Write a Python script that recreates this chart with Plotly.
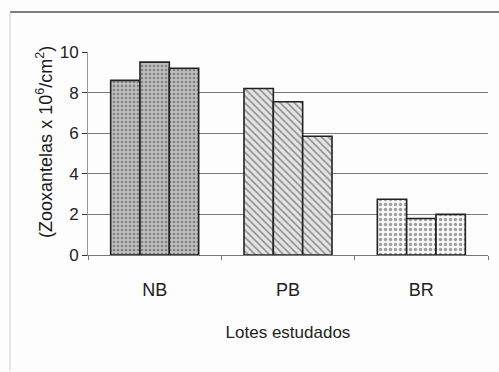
import plotly.graph_objects as go

categories = ["NB", "PB", "BR"]
amostra1 = [8.6, 8.2, 2.75]
amostra2 = [9.5, 7.55, 1.8]
amostra3 = [9.2, 5.85, 2.0]
y_ticks = [0, 2, 4, 6, 8, 10]
y_title = "(Zooxantelas x 10<sup>6</sup>/cm<sup>2</sup>)"
x_title = "Lotes estudados"

shapes_per_cat = [".", "\\", "."]
bg_per_cat = ["#bdbdbd", "#e6e6e6", "#f8f8f8"]
fg_per_cat = ["#3a3a3a", "#555555", "#d2d2d2"]
size_per_cat = [4, 5, 5]

fig = go.Figure()
for name, vals in [("1", amostra1), ("2", amostra2), ("3", amostra3)]:
    fig.add_trace(go.Bar(
        x=categories, y=vals, name=name,
        marker=dict(
            color=bg_per_cat,
            line=dict(color="#222222", width=1.6),
            pattern=dict(shape=shapes_per_cat, fgcolor=fg_per_cat,
                         bgcolor=bg_per_cat, size=size_per_cat, solidity=0.35,
                         fillmode="overlay"),
        ),
        showlegend=False,
    ))

fig.update_layout(
    width=499, height=372,
    margin=dict(l=88, r=11, t=52, b=117),
    barmode="group", bargap=0.34, bargroupgap=0,
    paper_bgcolor="#fdfdfd", plot_bgcolor="#fdfdfd",
    font=dict(family="Liberation Sans, Arial", color="#222222"),
    shapes=[
        dict(type="line", xref="paper", yref="paper", x0=-0.195, x1=1.03,
             y0=1.197, y1=1.197, line=dict(color="#555555", width=1.5)),
        dict(type="line", xref="paper", yref="paper", x0=-0.195, x1=-0.195,
             y0=1.197, y1=-0.57, line=dict(color="#cccccc", width=1)),
    ],
    annotations=[
        dict(text=y_title, xref="paper", yref="paper", x=-0.1075, y=0.557,
             textangle=-90, showarrow=False, xanchor="center", yanchor="middle",
             font=dict(size=18, family="Liberation Sans, Arial", color="#1a1a1a")),
    ],
)
fig.update_yaxes(
    automargin=False,
    range=[0, 10], tickvals=y_ticks, ticks="outside", ticklen=5,
    tickcolor="#333333", showline=True, linecolor="#999999",
    showgrid=True, gridcolor="#7a7a7a", gridwidth=1, zeroline=False,
    tickfont=dict(size=17, family="Liberation Sans, Arial", color="#222222"),
)
fig.update_xaxes(
    automargin=False,
    showline=True, linecolor="#777777", ticks="outside", tickson="boundaries",
    ticklen=4, tickcolor="#777777", ticklabelstandoff=18,
    tickfont=dict(size=18, family="Liberation Sans, Arial", color="#222222"),
    title=dict(text=x_title,
               font=dict(size=17, family="Liberation Sans, Arial", color="#222222"),
               standoff=27),
)

fig.write_html("out.html", config={"displayModeBar": False},
               post_script="document.body.style.margin='0px';")
